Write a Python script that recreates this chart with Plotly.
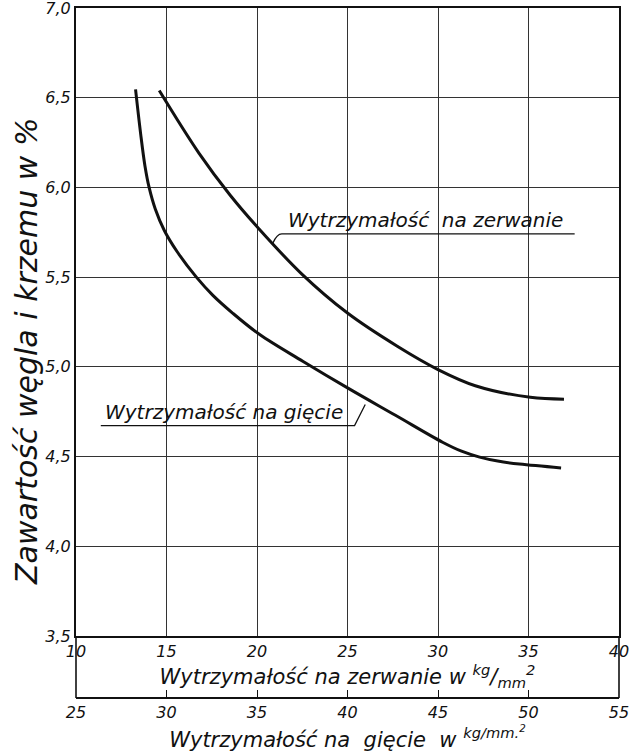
import plotly.graph_objects as go

# ---------------- data ----------------
# tensile strength (Wytrzymałość na zerwanie), kg/mm2  -> upper/right curve
zerw_x = [14.6, 16.8, 18.53, 20.1, 22.45, 25.0, 27.75, 30.0, 32.06, 35.1, 36.96]
zerw_y = [6.54, 6.19, 5.955, 5.77, 5.52, 5.30, 5.115, 4.985, 4.895, 4.83, 4.82]

# bending strength (Wytrzymałość na gięcie), kg/mm2 -> lower/left curve
giec_x = [28.29, 28.57, 28.81, 29.04, 29.38, 29.88, 30.60, 31.65, 32.55, 33.65,
          35.15, 37.55, 40.05, 42.65, 45.25, 46.3, 47.3, 48.3, 49.5, 51.8]
giec_y = [6.546, 6.30, 6.12, 6.00, 5.88, 5.76, 5.64, 5.50, 5.40, 5.30,
          5.18, 5.03, 4.88, 4.73, 4.58, 4.53, 4.497, 4.475, 4.458, 4.437]

zerw_ticks = [10, 15, 20, 25, 30, 35, 40]
giec_ticks = [25, 30, 35, 40, 45, 50, 55]
y_ticks = [3.5, 4.0, 4.5, 5.0, 5.5, 6.0, 6.5, 7.0]

y_title = "Zawartość węgla i krzemu w %"
x_title = "Wytrzymałość na zerwanie w <sup>kg</sup>/<sub>mm</sub><sup>2</sup>"
x2_title = "Wytrzymałość na  gięcie  w <sup>kg/mm.<sup>2</sup></sup>"
label_zerw = "Wytrzymałość  na zerwanie"
label_giec = "Wytrzymałość na gięcie"

# ---------------- layout geometry ----------------
W, H = 633, 754
ML, MR, MT, MB = 76, 14, 8, 30
paper_h = H - MT - MB
plot_bottom_px = 636
axis2_px = 698
ydom0 = (H - MB - plot_bottom_px) / paper_h
x2pos = (H - MB - axis2_px) / paper_h

FONT = "DejaVu Sans"
ink = "#111111"

fig = go.Figure()
fig.add_trace(go.Scatter(x=zerw_x, y=zerw_y, mode="lines", xaxis="x", yaxis="y",
                         line=dict(color=ink, width=3, shape="spline", smoothing=1.0),
                         showlegend=False, hoverinfo="skip"))
fig.add_trace(go.Scatter(x=giec_x, y=giec_y, mode="lines", xaxis="x2", yaxis="y",
                         line=dict(color=ink, width=3, shape="spline", smoothing=1.0),
                         showlegend=False, hoverinfo="skip"))

tickfont = dict(family=FONT, size=16, color=ink, style="italic")
titlefont = dict(family=FONT, size=21, color=ink, style="italic")

fig.update_layout(
    width=W, height=H,
    margin=dict(l=ML, r=MR, t=MT, b=MB, autoexpand=False),
    paper_bgcolor="white", plot_bgcolor="white",
    separators=", ",
    xaxis=dict(range=[10, 40], tickvals=zerw_ticks, showgrid=True,
               gridcolor="#333", gridwidth=1, zeroline=False, automargin=False,
               showline=True, mirror=True, linecolor=ink, linewidth=1.8,
               ticks="", tickfont=tickfont, anchor="y", ticklabeloverflow="allow",
               title=dict(text=x_title, font=titlefont, standoff=2)),
    xaxis2=dict(range=[25, 55], tickvals=giec_ticks, overlaying="x",
                anchor="free", position=x2pos, side="bottom", automargin=False,
                showgrid=False, zeroline=False, showline=True,
                linecolor=ink, linewidth=1.8, ticks="inside", ticklen=7,
                tickcolor=ink, tickwidth=1, tickfont=tickfont,
                ticklabeloverflow="allow",
                title=dict(text=x2_title, font=titlefont, standoff=0)),
    yaxis=dict(domain=[ydom0, 1], range=[3.5, 7.0], tickvals=y_ticks,
               tickformat=".1f", showgrid=True, gridcolor="#333", gridwidth=1,
               zeroline=False, showline=True, mirror=True, linecolor=ink,
               linewidth=2, ticks="", tickfont=tickfont, automargin=False,
               ticklabeloverflow="allow"),
)

# side walls of the lower scale box
for xp in (0, 1):
    fig.add_shape(type="line", xref="paper", yref="paper", x0=xp, x1=xp,
                  y0=x2pos, y1=ydom0, line=dict(color=ink, width=1.6))

# y-axis title
fig.add_annotation(xref="paper", yref="paper", x=(26 - ML) / (W - ML - MR),
                   y=(H - MB - 352) / paper_h, xanchor="center", yanchor="middle",
                   text=y_title, textangle=-90, showarrow=False,
                   font=dict(family=FONT, size=30, color=ink, style="italic"))

# curve labels with underline + leader
lab_font = dict(family=FONT, size=20, color=ink, style="italic")
zerw_ul_y, zerw_ul_x0, zerw_ul_x1 = 5.741, 21.37, 37.55
fig.add_annotation(xref="x", yref="y", x=21.6, y=zerw_ul_y, xanchor="left",
                   yanchor="bottom", text=label_zerw, showarrow=False, font=lab_font)
fig.add_shape(type="path", xref="x", yref="y",
              path=f"M 20.88,5.69 Q 21.1,{zerw_ul_y} {zerw_ul_x0},{zerw_ul_y} L {zerw_ul_x1},{zerw_ul_y}",
              line=dict(color=ink, width=1.3))

giec_ul_y, giec_ul_x0, giec_ul_x1 = 4.673, 11.37, 25.39
fig.add_annotation(xref="x", yref="y", x=11.5, y=giec_ul_y, xanchor="left",
                   yanchor="bottom", text=label_giec, showarrow=False, font=lab_font)
fig.add_shape(type="path", xref="x", yref="y",
              path=f"M {giec_ul_x0},{giec_ul_y} L {giec_ul_x1},{giec_ul_y} L 25.98,4.79",
              line=dict(color=ink, width=1.3))

fig.write_html("out.html")
